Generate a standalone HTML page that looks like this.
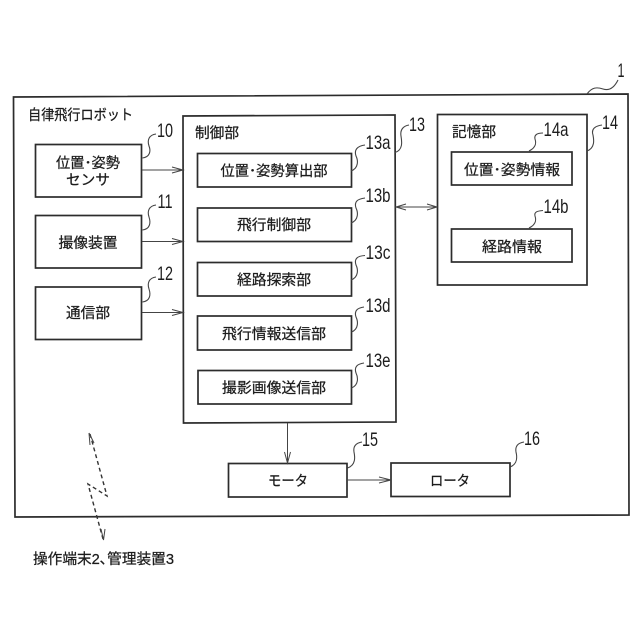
<!DOCTYPE html>
<html><head><meta charset="utf-8">
<style>
html,body{margin:0;padding:0;background:#fff}
svg{display:block}
text{font-family:"Liberation Sans","Noto Sans CJK JP",sans-serif;fill:#1c1c1c}
.j{font-size:14.5px;text-anchor:middle;stroke:#1c1c1c;stroke-width:.25}
.l{font-size:14.5px;stroke:#1c1c1c;stroke-width:.25}
.n{font-size:19.5px;text-anchor:middle}
.b{fill:#fff;stroke:#2c2c2c;stroke-width:1.7}
.c{fill:none;stroke:#444;stroke-width:1.1}
.a{fill:none;stroke:#444;stroke-width:1}
.d{fill:none;stroke:#333;stroke-width:1.4;stroke-dasharray:4 3}
</style></head>
<body>
<svg width="640" height="640" viewBox="0 0 640 640" xmlns="http://www.w3.org/2000/svg">
<polygon class="b" points="13.5,97 628,94 629,515 15,517"/>
<rect class="b" x="35.5" y="144.5" width="106" height="52.5"/>
<rect class="b" x="35.5" y="215.5" width="106" height="52.5"/>
<rect class="b" x="35.5" y="287" width="106" height="52.5"/>
<polygon class="b" points="183,116 395,115 396,422 183.5,423"/>
<rect class="b" x="197.5" y="153.5" width="154" height="33.5"/>
<rect class="b" x="197.5" y="208" width="154" height="33.5"/>
<rect class="b" x="197.5" y="262.5" width="154" height="33.5"/>
<rect class="b" x="197.5" y="316" width="154" height="34"/>
<rect class="b" x="198" y="370.5" width="153.500" height="33.500"/>
<rect class="b" x="437.500" y="114.500" width="149.500" height="170.500"/>
<rect class="b" x="451.500" y="152" width="120.500" height="33"/>
<rect class="b" x="451.500" y="229" width="120.500" height="33"/>
<rect class="b" x="228.500" y="463.500" width="118.500" height="33.500"/>
<rect class="b" x="391" y="463" width="119" height="33.500"/>

<path class="a" d="M142,170H183M172,167L183,170L172,173"/>
<path class="a" d="M142,241.500H183M172,238.500L183,241.500L172,244.500"/>
<path class="a" d="M142,312.500H183M172,309.500L183,312.500L172,315.500"/>
<path class="a" d="M396,207H437M406,204L396,207L406,210M427,204L437,207L427,210"/>
<path class="a" d="M287.500,423V463M284.500,452L287.500,463L290.500,452"/>
<path class="a" d="M347,480H391M379,477L391,480L379,483"/>

<path class="d" d="M90,434L107,496L88,484L103,539"/>
<path class="a" d="M89,433L90,445M89,433L94,443M103.500,540L101,529M103.500,540L105,529" stroke-width="1.300"/>

<path class="c" d="M142.500,158C150,157 151,151 149,146C147,140 149,135 156,134"/>
<path class="c" d="M142.500,230C150,229 151,223 149,217C147,211 149,206 156,205"/>
<path class="c" d="M142.500,302C150,301 151,295 149,289C147,283 149,278 156,277"/>
<path class="c" d="M351,171C359,168 358,160 356,156C354,150 357,146 365,145"/>
<path class="c" d="M351,223C359,220 358,212 356,208C354,202 357,199 365,198"/>
<path class="c" d="M351,280C359,277 358,269 356,265C354,259 357,256 365,255.500"/>
<path class="c" d="M351.500,332C359,329 358,321 356,317C354,311 357,308 364,307"/>
<path class="c" d="M351.500,388C359,385 358,377 356,373C354,367 357,364 364,363"/>
<path class="c" d="M395,152.500C403,150 402,142 401,136C400,130 403,126 409,125"/>
<path class="c" d="M587,151C595,148 594,140 593,135C591,129 595,126 602,125"/>
<path class="c" d="M529,151C537,147 536,142 535,139C534,135 537,133 543,133"/>
<path class="c" d="M529,228C537,224 536,219 535,216C534,212 537,211 543,210.500"/>
<path class="c" d="M347.500,468C356,465 355,457 354,452C353,446 356,443 362,442"/>
<path class="c" d="M510,467C518,464 517,456 516,452C515,446 518,443 524,442"/>
<path class="c" d="M587,94C592,87 597,87 603,89C609,91 614,88 618,80"/>

<text class="l" x="28" y="120" textLength="105" lengthAdjust="spacingAndGlyphs">自律飛行ロボット</text>
<text class="l" x="195" y="138" textLength="44" lengthAdjust="spacingAndGlyphs">制御部</text>
<text class="l" x="452" y="137" textLength="44" lengthAdjust="spacingAndGlyphs">記憶部</text>
<text class="j" x="88" y="168" textLength="64" lengthAdjust="spacingAndGlyphs">位置･姿勢</text>
<text class="j" x="88" y="185" textLength="44" lengthAdjust="spacingAndGlyphs">センサ</text>
<text class="j" x="88" y="248" textLength="59" lengthAdjust="spacingAndGlyphs">撮像装置</text>
<text class="j" x="88" y="318" textLength="44" lengthAdjust="spacingAndGlyphs">通信部</text>
<text class="j" x="274" y="176" textLength="107" lengthAdjust="spacingAndGlyphs">位置･姿勢算出部</text>
<text class="j" x="274" y="230" textLength="74" lengthAdjust="spacingAndGlyphs">飛行制御部</text>
<text class="j" x="274" y="285" textLength="74" lengthAdjust="spacingAndGlyphs">経路探索部</text>
<text class="j" x="274" y="339" textLength="104" lengthAdjust="spacingAndGlyphs">飛行情報送信部</text>
<text class="j" x="274" y="393" textLength="104" lengthAdjust="spacingAndGlyphs">撮影画像送信部</text>
<text class="j" x="512" y="175" textLength="96" lengthAdjust="spacingAndGlyphs">位置･姿勢情報</text>
<text class="j" x="512" y="252" textLength="60" lengthAdjust="spacingAndGlyphs">経路情報</text>
<text class="j" x="288" y="486" textLength="40" lengthAdjust="spacingAndGlyphs">モータ</text>
<text class="j" x="450" y="486" textLength="40" lengthAdjust="spacingAndGlyphs">ロータ</text>
<text class="l" x="33" y="564" textLength="141" lengthAdjust="spacingAndGlyphs">操作端末2､管理装置3</text>

<text class="n" x="165" y="137" textLength="16" lengthAdjust="spacingAndGlyphs">10</text>
<text class="n" x="165" y="208" textLength="15" lengthAdjust="spacingAndGlyphs">11</text>
<text class="n" x="165" y="280" textLength="16" lengthAdjust="spacingAndGlyphs">12</text>
<text class="n" x="378" y="149" textLength="25" lengthAdjust="spacingAndGlyphs">13a</text>
<text class="n" x="378" y="202" textLength="25" lengthAdjust="spacingAndGlyphs">13b</text>
<text class="n" x="378" y="259" textLength="25" lengthAdjust="spacingAndGlyphs">13c</text>
<text class="n" x="378" y="312" textLength="25" lengthAdjust="spacingAndGlyphs">13d</text>
<text class="n" x="378" y="367" textLength="25" lengthAdjust="spacingAndGlyphs">13e</text>
<text class="n" x="417" y="131" textLength="16" lengthAdjust="spacingAndGlyphs">13</text>
<text class="n" x="610" y="129" textLength="16" lengthAdjust="spacingAndGlyphs">14</text>
<text class="n" x="556" y="136" textLength="25" lengthAdjust="spacingAndGlyphs">14a</text>
<text class="n" x="556" y="213" textLength="25" lengthAdjust="spacingAndGlyphs">14b</text>
<text class="n" x="370" y="446" textLength="16" lengthAdjust="spacingAndGlyphs">15</text>
<text class="n" x="532" y="445" textLength="16" lengthAdjust="spacingAndGlyphs">16</text>
<text class="n" x="621" y="77" textLength="7" lengthAdjust="spacingAndGlyphs">1</text>
</svg>
</body></html>
